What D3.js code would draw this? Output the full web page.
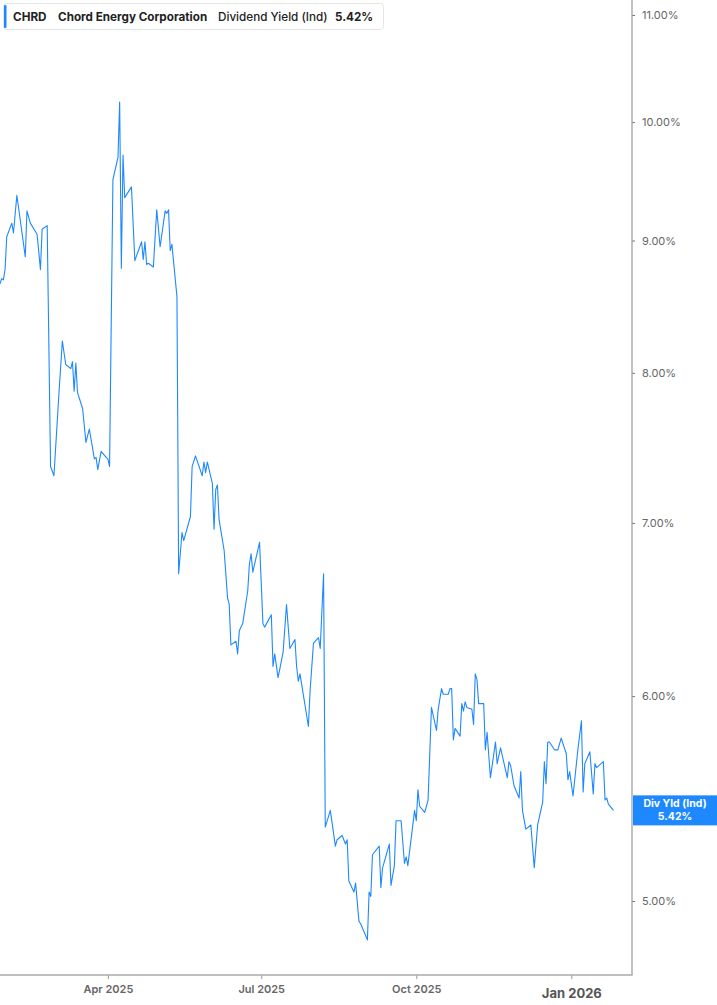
<!DOCTYPE html>
<html><head><meta charset="utf-8">
<script src="https://cdn.jsdelivr.net/npm/d3@7/dist/d3.min.js"></script>
<style>
html,body{margin:0;padding:0;background:#fff;}
svg{display:block;font-family:Inter,"Noto Sans",sans-serif;}
</style></head>
<body>
<svg id="chart" width="717" height="1005"></svg>
<script>
const dates = ["2025-01-27","2025-01-28","2025-01-29","2025-01-30","2025-01-31","2025-02-03","2025-02-04","2025-02-06","2025-02-11","2025-02-12","2025-02-14","2025-02-18","2025-02-20","2025-02-21","2025-02-24","2025-02-26","2025-02-28","2025-03-03","2025-03-05","2025-03-07","2025-03-10","2025-03-11","2025-03-12","2025-03-13","2025-03-14","2025-03-17","2025-03-19","2025-03-21","2025-03-24","2025-03-25","2025-03-26","2025-03-28","2025-03-31","2025-04-01","2025-04-02","2025-04-04","2025-04-07","2025-04-08","2025-04-09","2025-04-10","2025-04-11","2025-04-15","2025-04-17","2025-04-21","2025-04-22","2025-04-23","2025-04-24","2025-04-25","2025-04-28","2025-04-30","2025-05-02","2025-05-05","2025-05-06","2025-05-07","2025-05-08","2025-05-09","2025-05-12","2025-05-13","2025-05-15","2025-05-16","2025-05-20","2025-05-21","2025-05-23","2025-05-27","2025-05-28","2025-05-29","2025-05-30","2025-06-02","2025-06-03","2025-06-04","2025-06-05","2025-06-06","2025-06-09","2025-06-11","2025-06-12","2025-06-13","2025-06-16","2025-06-17","2025-06-18","2025-06-20","2025-06-23","2025-06-24","2025-06-25","2025-06-26","2025-06-30","2025-07-02","2025-07-03","2025-07-07","2025-07-08","2025-07-09","2025-07-11","2025-07-14","2025-07-16","2025-07-18","2025-07-21","2025-07-22","2025-07-23","2025-07-24","2025-07-29","2025-07-30","2025-08-01","2025-08-04","2025-08-05","2025-08-07","2025-08-08","2025-08-11","2025-08-14","2025-08-15","2025-08-18","2025-08-20","2025-08-21","2025-08-22","2025-08-25","2025-08-26","2025-08-28","2025-08-29","2025-09-02","2025-09-03","2025-09-04","2025-09-05","2025-09-09","2025-09-10","2025-09-11","2025-09-15","2025-09-16","2025-09-18","2025-09-19","2025-09-22","2025-09-24","2025-09-25","2025-09-26","2025-09-30","2025-10-01","2025-10-02","2025-10-03","2025-10-06","2025-10-08","2025-10-10","2025-10-13","2025-10-14","2025-10-16","2025-10-17","2025-10-20","2025-10-21","2025-10-22","2025-10-23","2025-10-24","2025-10-27","2025-10-28","2025-10-29","2025-10-30","2025-10-31","2025-11-03","2025-11-04","2025-11-05","2025-11-06","2025-11-07","2025-11-10","2025-11-11","2025-11-12","2025-11-14","2025-11-17","2025-11-18","2025-11-20","2025-11-24","2025-11-25","2025-11-26","2025-11-28","2025-12-01","2025-12-02","2025-12-03","2025-12-05","2025-12-08","2025-12-10","2025-12-12","2025-12-15","2025-12-16","2025-12-17","2025-12-18","2025-12-19","2025-12-22","2025-12-24","2025-12-26","2025-12-29","2025-12-30","2025-12-31","2026-01-02","2026-01-05","2026-01-07","2026-01-08","2026-01-09","2026-01-12","2026-01-14","2026-01-15","2026-01-16","2026-01-20","2026-01-21","2026-01-22","2026-01-23","2026-01-26"];
const yields = [8.66,8.70,8.69,8.77,9.03,9.14,9.06,9.37,8.87,9.24,9.14,9.05,8.77,9.09,9.12,7.36,7.30,7.86,8.23,8.06,8.03,8.08,7.87,8.07,7.86,7.75,7.52,7.61,7.41,7.42,7.34,7.46,7.42,7.41,7.36,9.50,9.69,10.18,8.78,9.71,9.35,9.44,8.84,8.99,8.85,8.99,8.81,8.82,8.79,9.25,8.95,9.24,9.22,9.25,8.92,8.97,8.56,6.69,6.94,6.89,7.04,7.36,7.43,7.30,7.39,7.32,7.39,7.25,6.96,7.21,7.24,7.02,6.83,6.55,6.51,6.28,6.30,6.23,6.36,6.40,6.59,6.75,6.81,6.70,6.88,6.40,6.38,6.45,6.16,6.23,6.10,6.24,6.51,6.26,6.31,6.16,6.08,6.12,5.84,6.03,6.29,6.32,6.26,6.69,5.34,5.42,5.25,5.28,5.30,5.26,5.28,5.09,5.04,5.08,4.91,4.90,4.83,5.04,5.02,5.21,5.25,5.06,5.15,5.26,5.07,5.16,5.37,5.37,5.17,5.20,5.16,5.42,5.37,5.52,5.44,5.41,5.47,5.94,5.82,5.93,6.04,6.01,6.01,6.04,6.04,5.77,5.83,5.79,5.96,5.92,5.97,5.94,5.93,5.85,6.12,6.09,5.96,5.96,5.72,5.81,5.58,5.76,5.65,5.73,5.58,5.66,5.64,5.54,5.48,5.61,5.42,5.33,5.35,5.15,5.35,5.46,5.66,5.55,5.76,5.76,5.72,5.72,5.78,5.70,5.57,5.61,5.49,5.73,5.87,5.51,5.65,5.71,5.50,5.65,5.63,5.66,5.47,5.48,5.45,5.42];
const yTicks = [5,6,7,8,9,10,11];
const xTicks = ["2025-04-01","2025-07-01","2025-10-01","2026-01-01"];
const xTickLabels = ["Apr 2025","Jul 2025","Oct 2025","Jan 2026"];
const ticker = "CHRD", company = "Chord Energy Corporation", metric = "Dividend Yield (Ind)", lastLabel = "5.42%";
const flagTitle = "Div Yld (Ind)";

const parse = d3.timeParse("%Y-%m-%d");
const data = dates.map((d,i)=>({date:parse(d), v:yields[i]}));
const svg = d3.select("#chart");
const plotRight = 632, plotBottom = 975;
const blue = "#1e88ff";

const x = d3.scaleTime().domain([parse("2025-01-27"), parse("2026-02-06")]).range([0, plotRight]);
const y = d3.scaleLog().domain([5,11]).range([901,15]);

// line
svg.append("path").datum(data)
  .attr("fill","none").attr("stroke",blue).attr("stroke-width",1.1)
  .attr("stroke-linejoin","round")
  .attr("d", d3.line().x(d=>x(d.date)).y(d=>y(d.v)));

// right axis
const yAxis = d3.axisRight(y).tickValues(yTicks).tickSize(3).tickPadding(7)
  .tickFormat(d=>d3.format(".2f")(d)+"%");
const gy = svg.append("g").attr("transform",`translate(${plotRight},0)`).call(yAxis);
gy.select(".domain").remove();
gy.selectAll(".tick line").attr("stroke","#777");
gy.selectAll(".tick text").attr("fill","#666").attr("font-size","11px").attr("font-family","Inter, sans-serif");
svg.append("line").attr("x1",plotRight).attr("x2",plotRight).attr("y1",0).attr("y2",plotBottom)
  .attr("stroke","#999").attr("stroke-width",1.2);

// bottom axis
const xAxis = d3.axisBottom(x).tickValues(xTicks.map(parse)).tickSize(4).tickPadding(6)
  .tickFormat((d,i)=>xTickLabels[i]);
const gx = svg.append("g").attr("transform",`translate(0,${plotBottom})`).call(xAxis);
gx.select(".domain").remove();
gx.selectAll(".tick line").attr("stroke","#999");
gx.selectAll(".tick text").attr("fill","#666").attr("font-size","11px").attr("font-weight","600").attr("font-family","Inter, sans-serif");
gx.selectAll(".tick text").filter((d,i)=>i===xTickLabels.length-1)
  .attr("font-size","13px").attr("font-weight","700").attr("fill","#555").attr("dy","1.0em");
svg.append("line").attr("x1",0).attr("x2",plotRight+0.6).attr("y1",plotBottom).attr("y2",plotBottom)
  .attr("stroke","#aaa").attr("stroke-width",1.6);

// last value flag
const lastV = yields[yields.length-1];
const fy = y(lastV);
svg.append("rect").attr("x",plotRight+1).attr("y",fy-15).attr("width",717-plotRight-1).attr("height",30).attr("fill",blue);
svg.append("text").attr("x",675).attr("y",fy-3).attr("text-anchor","middle").attr("fill","#fff")
  .attr("font-size","10.5px").attr("font-weight","700").text(flagTitle);
svg.append("text").attr("x",675).attr("y",fy+10).attr("text-anchor","middle").attr("fill","#fff")
  .attr("font-size","10.5px").attr("font-weight","700").text(lastLabel);

// title box
const tb = svg.append("g");
tb.append("rect").attr("x",3.5).attr("y",3.5).attr("width",380).attr("height",26).attr("rx",3)
  .attr("fill","#fff").attr("stroke","#e6e6e6");
tb.append("rect").attr("x",4).attr("y",5).attr("width",2.5).attr("height",23).attr("rx",1).attr("fill",blue);
const t = tb.append("text").attr("y",21).attr("font-size","11.7px").attr("fill","#222");
t.append("tspan").attr("x",13).attr("font-weight","700").text(ticker);
t.append("tspan").attr("x",58).attr("font-weight","700").text(company);
t.append("tspan").attr("x",218).attr("font-weight","500").text(metric);
t.append("tspan").attr("x",335).attr("font-weight","700").text(lastLabel);
</script>
</body></html>
